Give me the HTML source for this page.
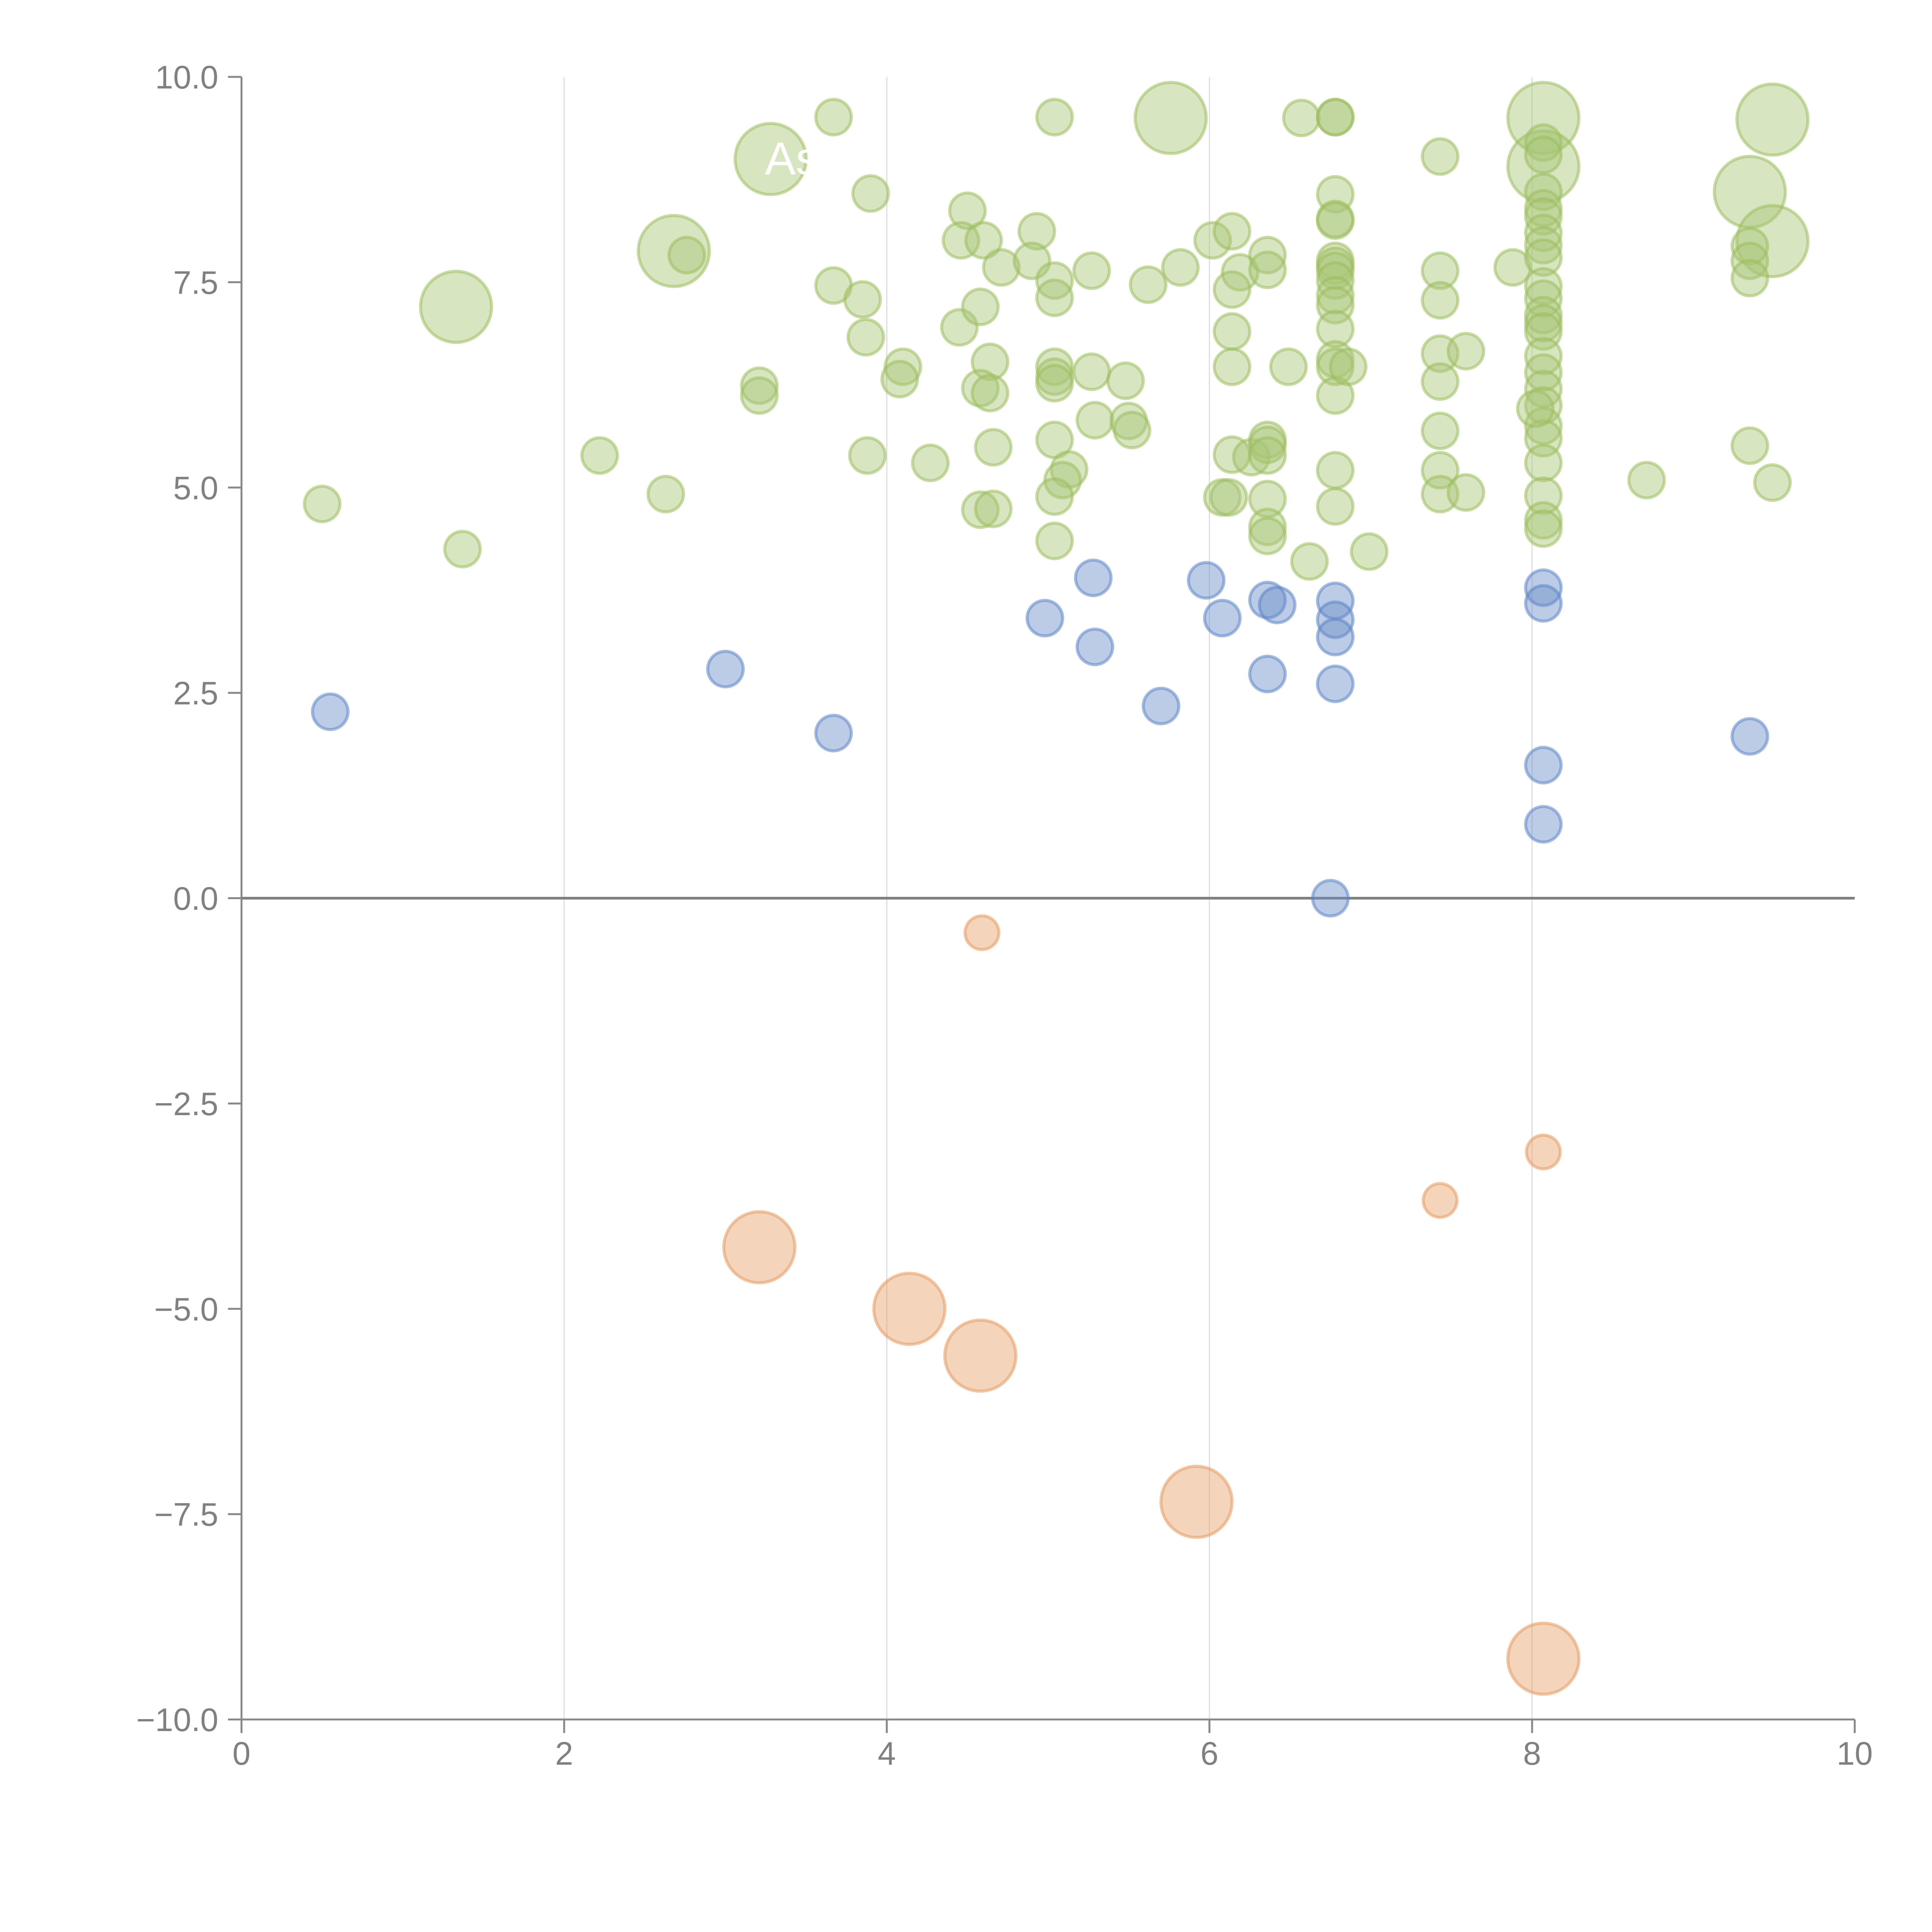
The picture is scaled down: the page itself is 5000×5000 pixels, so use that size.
<!DOCTYPE html>
<html><head><meta charset="utf-8"><style>
html,body{margin:0;padding:0;background:#fff;}
svg{display:block;font-family:"Liberation Sans",Arial,sans-serif;}
</style></head><body>
<svg id="chart" width="5000" height="5000" viewBox="0 0 5000 5000" xmlns="http://www.w3.org/2000/svg">
<g id="grid"></g>
<g id="axes"></g>
<g id="marks"></g>
<g id="labels"></g>
</svg>
<script>
const xTicks=[0,2,4,6,8,10];
const yTicks=[10,7.5,5,2.5,0,-2.5,-5,-7.5,-10];
const yTickLabels=["10.0","7.5","5.0","2.5","0.0","\u22122.5","\u22125.0","\u22127.5","\u221210.0"];
const greenX=[0.50,1.37,1.33,2.22,2.63,2.68,2.76,3.21,3.21,3.28,3.67,3.90,3.67,3.85,3.87,4.10,4.08,3.88,4.27,4.50,4.46,4.60,4.71,4.45,4.58,4.64,4.58,4.64,4.66,4.58,4.66,4.93,4.90,5.04,5.04,5.04,5.04,5.04,5.04,5.04,5.13,5.09,5.04,5.04,5.27,5.27,5.29,5.48,5.50,5.52,5.76,5.62,5.82,6.02,6.14,6.19,6.14,6.14,6.14,6.14,6.08,6.12,6.26,6.36,6.36,6.36,6.36,6.36,6.36,6.36,6.36,6.49,6.57,6.62,6.78,6.78,6.78,6.78,6.78,6.78,6.78,6.78,6.78,6.78,6.78,6.78,6.78,6.78,6.78,6.86,6.78,6.78,6.99,7.43,7.43,7.43,7.43,7.59,7.43,7.43,7.43,7.43,7.59,7.88,8.07,8.07,8.07,8.07,8.07,8.07,8.07,8.07,8.07,8.07,8.07,8.07,8.07,8.07,8.07,8.07,8.07,8.07,8.07,8.07,8.07,8.07,8.07,8.07,8.07,8.02,8.71,9.35,9.49,9.49,9.35,9.35,9.35,9.35,9.49];
const greenY=[4.80,4.25,7.20,5.39,4.92,7.88,7.83,6.24,6.12,9.00,9.51,8.58,7.46,7.29,6.83,6.47,6.32,5.39,5.30,8.37,8.01,8.01,7.68,6.95,7.20,6.53,6.21,6.15,5.49,4.73,4.74,8.12,7.76,9.51,7.52,7.31,6.47,6.35,6.27,5.58,5.22,5.09,4.89,4.35,7.64,6.41,5.82,6.30,5.81,5.70,9.50,7.47,7.68,8.01,8.12,7.62,7.41,6.90,6.47,5.40,4.88,4.88,5.37,7.83,7.65,5.58,5.52,5.39,4.86,4.52,4.41,6.47,9.50,4.10,9.51,9.51,8.57,8.27,8.25,7.76,7.70,7.64,7.52,7.34,7.22,6.93,6.56,6.47,6.12,6.47,5.21,4.77,4.22,9.03,7.64,7.28,6.63,6.66,6.29,5.69,5.21,4.92,4.94,7.68,9.50,8.91,9.20,9.05,8.60,8.40,8.30,8.10,7.95,7.80,7.45,7.30,7.10,7.00,6.90,6.60,6.40,6.20,6.00,5.75,5.60,5.30,4.90,4.60,4.50,5.96,5.09,8.60,9.48,8.00,7.94,7.76,7.55,5.51,5.06];
const greenSize=[
1,1,2,1,1,2,1,1,1,2,
1,1,1,1,1,1,1,1,1,1,
1,1,1,1,1,1,1,1,1,1,
1,1,1,1,1,1,1,1,1,1,
1,1,1,1,1,1,1,1,1,1,
2,1,1,1,1,1,1,1,1,1,
1,1,1,1,1,1,1,1,1,1,
1,1,1,1,1,1,1,1,1,1,
1,1,1,1,1,1,1,1,1,1,
1,1,1,1,1,1,1,1,1,1,
1,1,1,1,2,2,1,1,1,1,
1,1,1,1,1,1,1,1,1,1,
1,1,1,1,1,1,1,1,1,1,
1,2,2,2,1,1,1,1,1];
const blueX=[0.55,3.00,3.67,4.98,5.28,5.29,5.70,5.98,6.08,6.36,6.42,6.36,6.78,6.78,6.78,6.78,6.75,8.07,8.07,8.07,8.07,9.35];
const blueY=[2.27,2.79,2.01,3.41,3.90,3.06,2.34,3.87,3.41,3.63,3.57,2.73,3.62,3.39,3.18,2.61,0.00,3.78,3.59,1.62,0.90,1.97];
const orangeX=[4.59,8.07,7.43,3.21,4.14,4.58,5.92,8.07];
const orangeY=[-0.42,-3.09,-3.68,-4.25,-5.00,-5.57,-7.35,-9.26];
const orangeSize=[0.95,0.95,0.95,2,2,2,2,2];

const NS="http://www.w3.org/2000/svg";
const X0=625,X1=4800,Y0=4450,Y1=199;
const sx=v=>X0+(v-0)/(10-0)*(X1-X0);
const sy=v=>Y0-(v+10)/20*(Y0-Y1);
function mk(tag,attrs,parent){const e=document.createElementNS(NS,tag);for(const k in attrs)e.setAttribute(k,attrs[k]);parent.appendChild(e);return e;}
const grid=document.getElementById('grid'),axes=document.getElementById('axes'),marks=document.getElementById('marks'),labels=document.getElementById('labels');
xTicks.forEach(t=>{
  if(t>0&&t<10){const g=mk('line',{x1:sx(t),x2:sx(t),y1:Y1,y2:Y0,stroke:'#dcdcdc','stroke-width':3},grid);
  
  }
  const tk=mk('line',{x1:sx(t),x2:sx(t),y1:Y0,y2:Y0+35,stroke:'#888','stroke-width':5},axes);
  
  
  const tx=mk('text',{x:sx(t),y:4567,'text-anchor':'middle','font-size':84,fill:'#808080'},axes);
  
  
  tx.textContent=String(t);
});
yTicks.forEach((t,i)=>{
  const tk=mk('line',{x1:X0-35,x2:X0,y1:sy(t),y2:sy(t),stroke:'#888','stroke-width':5},axes);
  
  
  const tx=mk('text',{x:565,y:sy(t)+30,'text-anchor':'end','font-size':84,fill:'#808080'},axes);
  
  
  tx.textContent=yTickLabels[i];
});
const ya=mk('line',{x1:X0,x2:X0,y1:Y1,y2:Y0+35,stroke:'#888','stroke-width':5},axes);


const xa=mk('line',{x1:X0,x2:X1,y1:Y0,y2:Y0,stroke:'#888','stroke-width':5},axes);


const zl=mk('line',{x1:X0,x2:X1,y1:sy(0),y2:sy(0),stroke:'#808080','stroke-width':7},axes);



function drawSeries(xs,ys,sizes,fill,stroke,name){
  xs.forEach((x,i)=>{
    const s=sizes?sizes[i]:1;
    const c=mk('circle',{cx:sx(x),cy:sy(ys[i]),r:46*s,fill:fill,'fill-opacity':0.45,stroke:stroke,'stroke-opacity':0.55,'stroke-width':8},marks);
    
    
  });
}
drawSeries(greenX,greenY,greenSize,'#a9c575','#9dbd5d','bubble-green');
drawSeries(blueX,blueY,null,'#6a8fc8','#5b85c6','bubble-blue');
drawSeries(orangeX,orangeY,orangeSize,'#e8a06a','#e39a5e','bubble-orange');

const lab=mk('text',{x:sx(3.28)-15,y:sy(9.0)+40,'text-anchor':'start','font-size':120,fill:'#fff'},labels);


lab.textContent='Asia';
</script>
</body></html>
